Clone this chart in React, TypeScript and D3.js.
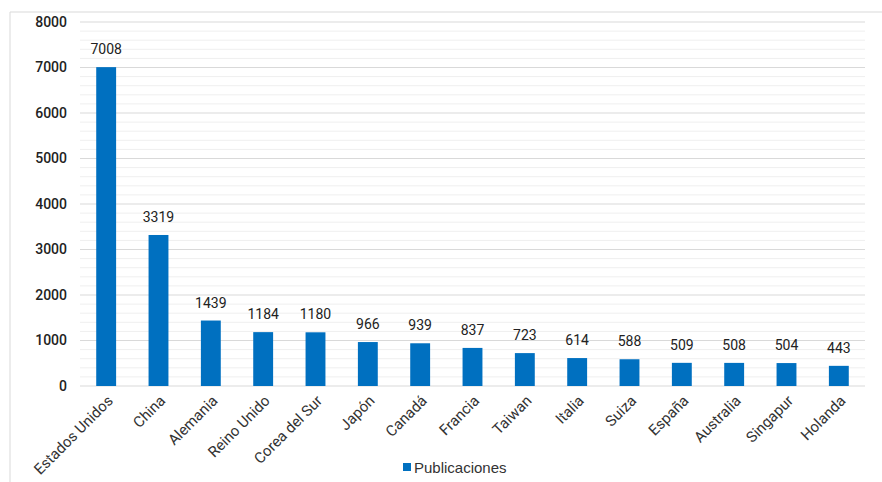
import React from "react";
import * as d3 from "d3";

const paises = [
  "Estados Unidos", "China", "Alemania", "Reino Unido", "Corea del Sur", "Japón",
  "Canadá", "Francia", "Taiwan", "Italia", "Suiza", "España", "Australia",
  "Singapur", "Holanda",
];
const publicaciones = [7008, 3319, 1439, 1184, 1180, 966, 939, 837, 723, 614, 588, 509, 508, 504, 443];
const ticksY = [0, 1000, 2000, 3000, 4000, 5000, 6000, 7000, 8000];
const serie = "Publicaciones";

const W = 882;
const H = 482;
const left = 80;
const right = 865;
const top = 22;
const bottom = 386;
const azul = "#0070C0";
const fuente = "Roboto, 'DejaVu Sans', sans-serif";

export default function App() {
  const x = d3.scaleBand<string>().domain(paises).range([left, right]).paddingInner(0.62).paddingOuter(0.31);
  const y = d3.scaleLinear().domain([0, 8000]).range([bottom, top]);
  const menores = d3.range(0, 8001, 200).filter((v) => v % 1000 !== 0);

  return (
    <svg width={W} height={H} style={{ position: "absolute", left: 0, top: 0, background: "#fff" }}>
      <rect x={0} y={0} width={W} height={H} fill="#fff" />
      {/* marco */}
      <line x1={10} x2={W} y1={12} y2={12} stroke="#d9d9d9" strokeWidth={1} />
      <line x1={10} x2={10} y1={12} y2={H} stroke="#d9d9d9" strokeWidth={1} />

      {menores.map((v) => (
        <line key={"m" + v} x1={left} x2={right} y1={y(v)} y2={y(v)} stroke="#efefef" strokeWidth={1} />
      ))}
      {ticksY.map((v) => (
        <g key={"t" + v}>
          <line x1={left} x2={right} y1={y(v)} y2={y(v)} stroke="#d9d9d9" strokeWidth={1} />
          <text x={67} y={y(v)} dy="0.35em" textAnchor="end" fontFamily={fuente} fontSize={14} fontWeight={500} fill="#222">
            {v}
          </text>
        </g>
      ))}

      {paises.map((p, i) => {
        const v = publicaciones[i];
        const cx = (x(p) as number) + x.bandwidth() / 2;
        return (
          <g key={p}>
            <rect x={x(p)} y={y(v)} width={x.bandwidth()} height={bottom - y(v)} fill={azul} />
            <text x={cx} y={y(v) - 13} textAnchor="middle" fontFamily={fuente} fontSize={14} fill="#222">
              {v}
            </text>
            <text
              transform={`translate(${cx + 4},${bottom + 12}) rotate(-45)`}
              textAnchor="end"
              dy="0.35em"
              fontFamily={fuente}
              fontSize={15}
              fill="#333"
            >
              {p}
            </text>
          </g>
        );
      })}

      {/* leyenda */}
      <rect x={403} y={463} width={8} height={8} fill={azul} />
      <text x={414} y={473} fontFamily="'Liberation Sans', Arial, sans-serif" fontSize={15} fill="#333">
        {serie}
      </text>
    </svg>
  );
}
